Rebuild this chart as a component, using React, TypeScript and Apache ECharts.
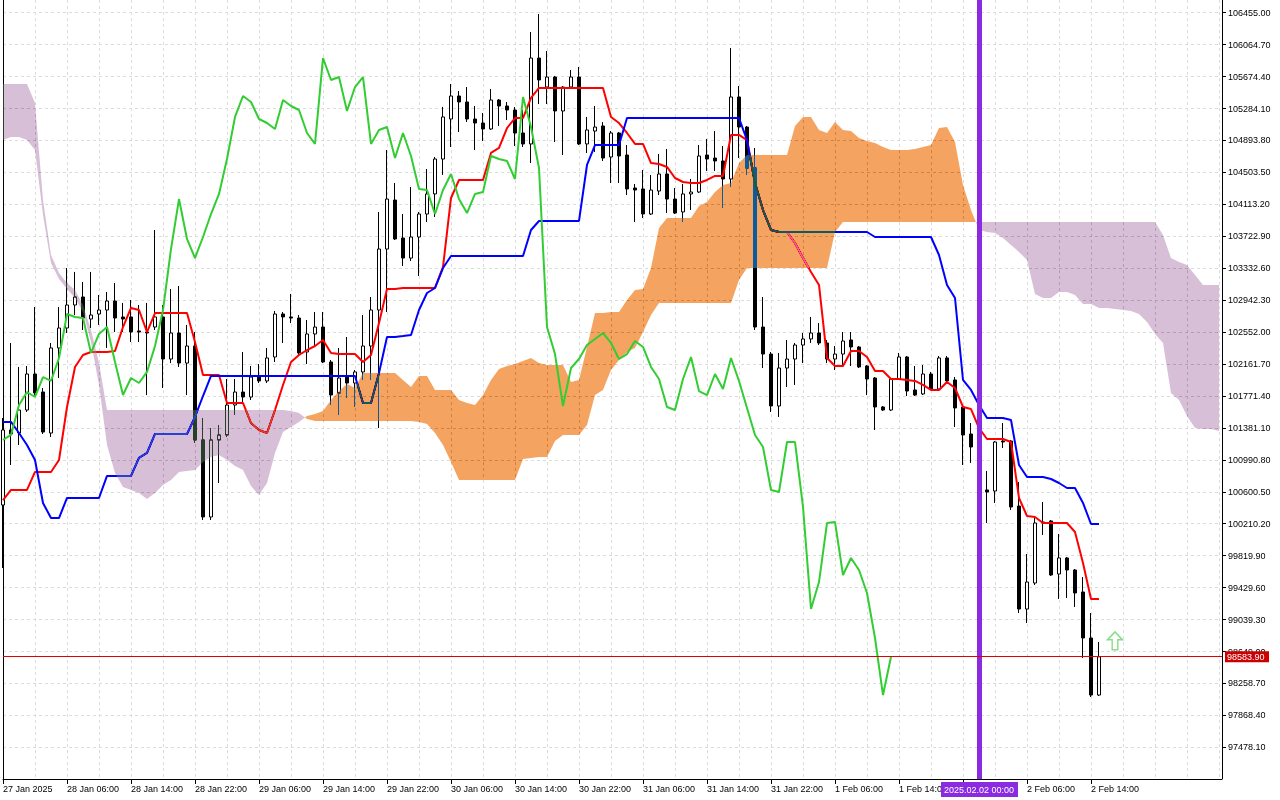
import React, { useEffect, useRef } from 'react';
import * as echarts from 'echarts';

const FONT = '"Liberation Sans", Arial, sans-serif';
const START_UTC = Date.UTC(2025, 0, 27, 22, 0, 0);
const SLOT_COUNT = 153;
const LAST_BAR = 137;
const MARK_INDEX = 122;
const Y_MIN = 97091.0;
const Y_MAX = 106610.2;
const LAST_PRICE = 98583.9;
const ARROW_POINT = [139, 98780];
const MONTHS = ['Jan', 'Feb', 'Mar', 'Apr', 'May', 'Jun', 'Jul', 'Aug', 'Sep', 'Oct', 'Nov', 'Dec'];

const yTicks = [97478.1, 97868.4, 98258.7, 98649.0, 99039.3, 99429.6, 99819.9, 100210.2, 100600.5, 100990.8,
  101381.1, 101771.4, 102161.7, 102552.0, 102942.3, 103332.6, 103722.9, 104113.2, 104503.5, 104893.8,
  105284.1, 105674.4, 106064.7, 106455.0];

// [open, close, low, high]
const candles = [
  [100439, 101356, 99669, 101502], [101356, 101307, 100928, 102419], [101319, 101600, 101172, 102126], [101600, 102040, 101576, 102138],
  [102040, 101808, 101759, 102859], [101820, 101331, 101307, 101869], [101319, 102358, 101270, 102419], [102358, 102602, 101991, 102859],
  [102602, 102883, 102541, 103335], [102883, 102981, 102761, 103287], [102981, 102724, 102578, 103164], [102712, 102761, 102602, 103287],
  [102773, 102822, 102639, 103005], [102822, 102932, 102358, 103042], [102932, 102724, 102553, 103152], [102737, 102712, 102553, 102908],
  [102737, 102553, 102431, 102944], [102566, 102553, 102431, 102883], [102553, 102541, 101783, 102908], [102614, 102737, 102578, 103800],
  [102737, 102223, 101869, 102883], [102223, 102541, 102174, 103079], [102541, 102174, 102126, 103115], [102174, 102382, 101783, 102639],
  [102382, 101234, 101197, 102553], [101234, 100293, 100256, 101502], [100293, 101234, 100256, 101380], [101234, 101295, 100708, 101417],
  [101295, 101661, 101270, 101979], [101661, 101820, 101539, 101979], [101820, 101759, 101698, 102309], [101759, 102003, 101722, 102138],
  [102003, 101955, 101930, 102162], [101955, 102236, 101930, 102358], [102248, 102773, 102187, 102810], [102773, 102737, 102419, 102798],
  [102737, 102724, 102663, 103018], [102724, 102297, 102272, 102761], [102309, 102529, 102162, 102700], [102529, 102614, 102382, 102798],
  [102614, 102187, 102174, 102798], [102187, 101783, 101661, 102211], [101808, 101991, 101539, 102358], [102003, 101930, 101747, 102492],
  [101930, 102065, 101637, 102089], [102065, 102382, 101967, 102761], [102382, 102822, 101967, 102981], [102822, 103567, 101380, 104020],
  [103567, 104178, 102798, 104777], [104166, 103690, 103677, 104374], [103702, 103457, 103360, 103995], [103457, 103714, 103421, 104325],
  [103714, 103995, 103238, 104020], [103995, 104240, 103897, 104545], [104240, 104667, 103959, 104692], [104667, 105181, 104472, 105303],
  [105156, 105437, 104814, 105584], [105437, 105364, 104997, 105498], [105364, 105156, 105119, 105547], [105156, 105107, 104777, 105315],
  [105107, 105034, 104887, 105229], [105034, 105388, 105022, 105523], [105388, 105315, 105071, 105400], [105315, 105266, 105144, 105364],
  [105266, 104985, 104826, 105303], [104985, 104851, 104814, 105266], [104851, 105901, 104618, 106219], [105901, 105633, 105339, 106439],
  [105547, 105669, 105339, 105987], [105669, 105254, 104875, 105682], [105254, 105547, 104716, 105559], [105547, 105669, 105535, 105755],
  [105669, 104851, 104838, 105792], [104851, 105022, 104741, 105181], [105009, 105058, 104753, 105315], [105071, 104679, 104643, 105119],
  [104692, 104985, 104374, 105009], [104985, 104704, 104374, 104997], [104716, 104301, 104227, 104838], [104313, 104288, 103897, 104362],
  [104301, 103995, 103946, 104533], [103995, 104288, 103983, 104472], [104276, 104484, 104227, 104728], [104484, 104178, 104007, 104789],
  [104178, 104007, 103995, 104313], [104020, 104240, 103897, 104362], [104240, 104264, 104044, 104423], [104264, 104704, 104252, 104838],
  [104716, 104667, 104521, 104912], [104679, 104643, 104521, 105009], [104643, 104423, 104068, 104826], [104423, 105425, 104325, 106024],
  [105425, 105058, 104679, 105559], [105058, 104557, 104472, 105071], [104557, 102614, 102578, 104802], [102614, 102284, 102113, 102981],
  [102284, 101649, 101576, 102309], [101649, 102113, 101515, 102297], [102113, 102223, 101881, 102456], [102223, 102394, 101906, 102419],
  [102394, 102468, 102174, 102541], [102468, 102541, 102419, 102737], [102541, 102419, 102394, 102663], [102419, 102223, 102174, 102456],
  [102223, 102284, 102089, 102382], [102284, 102443, 102126, 102553], [102456, 102370, 102138, 102553], [102370, 102126, 102113, 102382],
  [102138, 101979, 101783, 102150], [101991, 101637, 101356, 102003], [101637, 101600, 101588, 101649], [101600, 101979, 101588, 101991],
  [101979, 102248, 101967, 102297], [102248, 101832, 101771, 102260], [101845, 101783, 101771, 102138], [101796, 102040, 101783, 102150],
  [102040, 101857, 101845, 102065], [101857, 102236, 101845, 102260], [102236, 101955, 101942, 102260], [101967, 101625, 101392, 102003],
  [101637, 101295, 100928, 101649], [101307, 101148, 100952, 101441], [101148, 100623, 100561, 101234], [100623, 100598, 100219, 100855],
  [100610, 101209, 100464, 101221], [101221, 101209, 101136, 101441], [101221, 100415, 100378, 101234], [100427, 99168, 99119, 100720],
  [99168, 99498, 98997, 99840], [99486, 100219, 99462, 100293], [100219, 100232, 100073, 100476], [100244, 99584, 99572, 100256],
  [99596, 99792, 99291, 100085], [99792, 99645, 99303, 99804], [99645, 99364, 99193, 99657], [99376, 98814, 98570, 99559],
  [98814, 98117, 98093, 99119], [98117, 98583.9, 98105, 98765],
];

const tenkan = [
  100500, 100623, 100623, 100623, 100843, 100843, 100843, 100989, 101637, 102126,
  102272, 102309, 102309, 102309, 102321, 102614, 102847, 102822, 102553, 102785,
  102785, 102785, 102785, 102785, 102431, 102028, 102028, 102028, 101686, 101686,
  101686, 101441, 101356, 101319, 101600, 101906, 102187, 102272, 102333, 102382,
  102456, 102297, 102284, 102284, 102284, 102187, 102272, 102663, 103079, 103079,
  103091, 103091, 103091, 103091, 103091, 103348, 104191, 104411, 104411, 104411,
  104411, 104741, 104802, 105046, 105168, 105168, 105413, 105535, 105535, 105535,
  105535, 105535, 105535, 105535, 105535, 105535, 105181, 105107, 104985, 104851,
  104851, 104618, 104606, 104570, 104435, 104386, 104374, 104374, 104411, 104460,
  104460, 104961, 104961, 104899, 104374, 104044, 103800, 103775, 103775, 103641,
  103457, 103287, 103128, 102236, 102138, 102138, 102321, 102321, 102248, 102077,
  102077, 101979, 101979, 101967, 101955, 101906, 101845, 101845, 101942, 101869,
  101637, 101612, 101380, 101246, 101246, 101246, 101209, 100525, 100305, 100293,
  100219, 100219, 100219, 100219, 100109, 99730, 99291, 99291,
];

const kijun = [
  101454, 101454, 101319, 101172, 100989, 100464, 100280, 100280, 100525, 100525,
  100525, 100525, 100525, 100794, 100794, 100794, 100794, 101014, 101075, 101307,
  101307, 101307, 101307, 101307, 101515, 101771, 102016, 102016, 102016, 102016,
  102016, 102016, 102016, 102016, 102016, 102016, 102016, 102016, 102016, 102016,
  102016, 102016, 102016, 102016, 102016, 101686, 101686, 102052, 102492, 102492,
  102504, 102517, 102822, 103030, 103091, 103335, 103482, 103482, 103482, 103482,
  103482, 103482, 103482, 103482, 103482, 103482, 103800, 103910, 103910, 103910,
  103910, 103910, 103910, 104594, 104838, 104838, 104838, 104838, 105168, 105168,
  105168, 105168, 105168, 105168, 105168, 105168, 105168, 105168, 105168, 105168,
  105168, 105168, 105168, 104899, 104374, 104044, 103800, 103775, 103775, 103775,
  103775, 103775, 103775, 103775, 103775, 103775, 103775, 103775, 103775, 103714,
  103714, 103714, 103714, 103714, 103714, 103714, 103714, 103494, 103128, 102969,
  101967, 101845, 101661, 101502, 101502, 101502, 101478, 100928, 100781, 100781,
  100781, 100757, 100708, 100647, 100647, 100464, 100207, 100207,
];

const senkouA = [
  104899, 104936, 104936, 104899, 104777, 103983, 103396, 103201, 103079, 102969,
  102798, 102431, 101906, 101172, 100830, 100659, 100623, 100586, 100513, 100586,
  100684, 100745, 100843, 100855, 100867, 100965, 101026, 101050, 100989, 100916,
  100867, 100671, 100561, 100708, 101075, 101331, 101392, 101454, 101527, 101551,
  101588, 101722, 101832, 101918, 101869, 102052, 102052, 102052, 102052, 102052,
  101967, 101881, 102016, 102016, 101845, 101845, 101845, 101722, 101686, 101661,
  101783, 101967, 102101, 102138, 102162, 102199, 102236, 102174, 102150, 102150,
  102150, 101942, 101967, 102370, 102785, 102785, 102798, 102798, 102944, 103067,
  103079, 103335, 103824, 103946, 103946, 103946, 103946, 104093, 104142, 104264,
  104350, 104374, 104618, 104716, 104716, 104716, 104716, 104716, 104716, 105071,
  105181, 105181, 105022, 104985, 105119, 105022, 105009, 104924, 104887, 104863,
  104814, 104777, 104777, 104777, 104789, 104814, 104838, 105046, 105058, 104875,
  104350, 104044, 103800, 103775, 103763, 103702, 103616, 103531, 103433, 103018,
  102969, 102969, 103042, 103042, 103005, 102895, 102895, 102847, 102847, 102834,
  102822, 102810, 102773, 102675, 102529, 102419, 101808, 101722, 101527, 101380,
  101368, 101368, 101343,
];

const senkouB = [
  105584, 105584, 105584, 105584, 105352, 104166, 103494, 103274, 103152, 103067,
  102883, 102578, 102174, 101600, 101600, 101600, 101600, 101600, 101600, 101600,
  101600, 101600, 101600, 101600, 101600, 101600, 101600, 101600, 101600, 101600,
  101600, 101600, 101600, 101600, 101600, 101600, 101588, 101563, 101490, 101466,
  101466, 101466, 101466, 101466, 101466, 101466, 101466, 101466, 101466, 101466,
  101466, 101466, 101454, 101429, 101319, 101172, 100965, 100745, 100745, 100745,
  100745, 100745, 100745, 100745, 100745, 101001, 101014, 101026, 101026, 101221,
  101295, 101295, 101295, 101417, 101783, 101845, 102089, 102211, 102309, 102358,
  102553, 102761, 102908, 102908, 102908, 102908, 102908, 102908, 102908, 102908,
  102908, 102908, 103189, 103335, 103335, 103335, 103335, 103335, 103335, 103335,
  103335, 103335, 103335, 103335, 103775, 103897, 103897, 103897, 103897, 103897,
  103897, 103897, 103897, 103897, 103897, 103897, 103897, 103897, 103897, 103897,
  103897, 103897, 103897, 103897, 103897, 103897, 103897, 103897, 103897, 103897,
  103897, 103897, 103897, 103897, 103897, 103897, 103897, 103897, 103897, 103897,
  103897, 103897, 103897, 103897, 103897, 103739, 103457, 103409, 103372, 103250,
  103128, 103128, 103128,
];

// Chikou span: the close plotted 26 bars back
const chikou = candles.slice(26).map((c) => c[1]);

const pad = (n: number) => (n < 10 ? '0' + n : '' + n);
const slotDates = Array.from({ length: SLOT_COUNT }, (_, i) => new Date(START_UTC + i * 3600000));
const categories = slotDates.map(
  (d) => `${d.getUTCFullYear()}.${pad(d.getUTCMonth() + 1)}.${pad(d.getUTCDate())} ${pad(d.getUTCHours())}:00`
);

const showTick = (i: number) => i % 8 === 0 && i <= LAST_BAR;
// the label under the marker line is covered by the marker's own time label
const showTimeLabel = (i: number) => showTick(i) && i !== 120;
const timeLabel = (i: number) => {
  const d = slotDates[i];
  if (i === 0) return `${d.getUTCDate()} ${MONTHS[d.getUTCMonth()]} ${d.getUTCFullYear()}`;
  return `${d.getUTCDate()} ${MONTHS[d.getUTCMonth()]} ${pad(d.getUTCHours())}:00`;
};

const CLOUD_UP = '#0b5b9f'; // inverse of sandybrown, painted with "difference" blending
const CLOUD_DN = '#274027'; // inverse of thistle
const GRID_COLOR = '#dcdcdc';
const PRICE_RED = '#e00000';

const CSS = `
#ichi-chart svg path[fill="${CLOUD_UP}"], #ichi-chart svg path[fill="${CLOUD_DN}"],
#ichi-chart svg path[fill="${CLOUD_UP.toUpperCase()}"], #ichi-chart svg path[fill="${CLOUD_DN.toUpperCase()}"],
#ichi-chart svg path[fill="rgb(11,91,159)"], #ichi-chart svg path[fill="rgb(39,64,39)"] { mix-blend-mode: difference; }
`;

function cloudRenderItem(params: any, api: any) {
  const regions: { fill: string; up: number[][]; dn: number[][] }[] = [];
  let cur: { s: number; up: number[][]; dn: number[][] } | null = null;
  for (let i = 0; i < senkouA.length; i++) {
    const a = senkouA[i];
    const b = senkouB[i];
    const s = a >= b ? 1 : -1;
    if (!cur) cur = { s, up: [], dn: [] };
    if (s !== cur.s) {
      const a0 = senkouA[i - 1];
      const b0 = senkouB[i - 1];
      const d0 = a0 - b0;
      const d1 = a - b;
      const t = d0 / (d0 - d1);
      const yv = a0 + t * (a - a0);
      const p0 = api.coord([i - 1, yv]);
      const p1 = api.coord([i, yv]);
      const p = [p0[0] + t * (p1[0] - p0[0]), p0[1]];
      cur.up.push(p);
      cur.dn.push(p);
      regions.push({ fill: cur.s > 0 ? CLOUD_UP : CLOUD_DN, up: cur.up, dn: cur.dn });
      cur = { s, up: [p], dn: [p] };
    }
    cur.up.push(api.coord([i, a]));
    cur.dn.push(api.coord([i, b]));
  }
  if (cur) regions.push({ fill: cur.s > 0 ? CLOUD_UP : CLOUD_DN, up: cur.up, dn: cur.dn });
  return {
    type: 'group',
    children: regions.map((r) => ({
      type: 'polygon',
      shape: { points: r.up.concat(r.dn.slice().reverse()) },
      style: { fill: r.fill, stroke: null },
      silent: true,
    })),
  };
}

export default function App() {
  const ref = useRef<HTMLDivElement>(null);

  useEffect(() => {
    if (!ref.current) return;
    const chart = echarts.init(ref.current, undefined, { renderer: 'svg' });
    const dashed = { color: GRID_COLOR, type: [3, 3] as any, width: 1 };
    const option: any = {
      animation: false,
      backgroundColor: '#ffffff',
      textStyle: { fontFamily: FONT, fontSize: 9, color: '#000' },
      grid: { left: 3, right: 61, top: 0, bottom: 21, containLabel: false },
      xAxis: {
        type: 'category',
        data: categories,
        boundaryGap: false,
        axisLine: { show: true, onZero: false, lineStyle: { color: '#000', width: 1 } },
        axisTick: { show: true, length: 5, interval: (i: number) => showTick(i), lineStyle: { color: '#000' } },
        axisLabel: {
          show: true,
          interval: (i: number) => showTimeLabel(i),
          align: 'left',
          margin: 5,
          fontSize: 9,
          fontFamily: FONT,
          color: '#000',
          formatter: (_v: string, i: number) => (showTimeLabel(i) ? timeLabel(i) : ''),
        },
        splitLine: { show: true, interval: (i: number) => i % 4 === 0, lineStyle: dashed },
      },
      yAxis: [
        {
          type: 'value',
          position: 'right',
          offset: 3,
          min: Y_MIN,
          max: Y_MAX,
          axisLine: { show: true, lineStyle: { color: '#000', width: 1 } },
          axisTick: { show: true, length: 4, customValues: yTicks, lineStyle: { color: '#000' } },
          axisLabel: {
            show: true,
            customValues: yTicks,
            margin: 6,
            fontSize: 9,
            fontFamily: FONT,
            color: '#000',
            formatter: (v: number) => v.toFixed(2),
          },
          splitLine: { show: true, lineStyle: dashed },
        },
        {
          type: 'value',
          position: 'left',
          min: Y_MIN,
          max: Y_MAX,
          axisLine: { show: true, lineStyle: { color: '#000', width: 1 } },
          axisTick: { show: false },
          axisLabel: { show: false },
          splitLine: { show: false },
        },
      ],
      series: [
        {
          type: 'candlestick',
          name: 'BTCUSD',
          data: candles,
          barWidth: 4,
          z: 2,
          silent: true,
          itemStyle: { color: '#ffffff', color0: '#000000', borderColor: '#000000', borderColor0: '#000000', borderWidth: 1 },
        },
        {
          type: 'line',
          name: 'Tenkan-sen',
          data: tenkan,
          symbol: 'none',
          showSymbol: false,
          silent: true,
          z: 3,
          lineStyle: { color: '#ff0000', width: 2 },
        },
        {
          type: 'line',
          name: 'Kijun-sen',
          data: kijun,
          symbol: 'none',
          showSymbol: false,
          silent: true,
          z: 3,
          lineStyle: { color: '#0000ff', width: 2 },
        },
        {
          type: 'custom',
          name: 'Kumo',
          data: [[0, senkouA[0]]],
          renderItem: cloudRenderItem,
          clip: false,
          silent: true,
          z: 4,
        },
        {
          type: 'line',
          name: 'Chikou Span',
          data: chikou,
          symbol: 'none',
          showSymbol: false,
          silent: true,
          z: 5,
          lineStyle: { color: '#32cd32', width: 2 },
          markLine: {
            silent: true,
            symbol: ['none', 'none'],
            label: { show: false },
            emphasis: { disabled: true },
            lineStyle: { color: '#8a2be2', width: 5, type: 'solid', opacity: 1 },
            data: [{ xAxis: categories[MARK_INDEX] }],
          },
        },
        {
          type: 'scatter',
          name: 'Buy',
          data: [ARROW_POINT],
          symbol: 'path://M8,0 L16,8 L11,8 L11,18 L5,18 L5,8 L0,8 Z',
          symbolSize: [15, 18],
          silent: true,
          z: 6,
          itemStyle: { color: '#ffffff', borderColor: '#6ad36a', borderWidth: 1.5 },
        },
      ],
    };
    chart.setOption(option);

    const xLeft = chart.convertToPixel({ xAxisIndex: 0 } as any, categories[0]) as number;
    const xMark = chart.convertToPixel({ xAxisIndex: 0 } as any, categories[MARK_INDEX]) as number;
    const xRight = chart.convertToPixel({ xAxisIndex: 0 } as any, categories[SLOT_COUNT - 1]) as number;
    const axisX = xRight + 3;
    const yPrice = chart.convertToPixel({ yAxisIndex: 0 } as any, LAST_PRICE) as number;
    const yLine = Math.floor(yPrice) + 0.5;
    const yBottom = chart.convertToPixel({ yAxisIndex: 0 } as any, Y_MIN) as number;
    const font = `9px ${FONT}`;
    chart.setOption({
      graphic: [
        { type: 'line', z: 50, silent: true, shape: { x1: xRight, y1: yBottom + 0.5, x2: axisX, y2: yBottom + 0.5 }, style: { stroke: '#000', lineWidth: 1 } },
        { type: 'line', z: 60, silent: true, shape: { x1: xLeft, y1: yLine, x2: axisX, y2: yLine }, style: { stroke: PRICE_RED, lineWidth: 1 } },
        { type: 'rect', z: 100, shape: { x: xMark - 38, y: yBottom + 3, width: 77, height: 15 }, style: { fill: '#8a2be2' }, silent: true },
        {
          type: 'text', z: 101, x: xMark, y: yBottom + 10.5, silent: true,
          style: { text: categories[MARK_INDEX], fill: '#ffffff', font, align: 'center', verticalAlign: 'middle', textAlign: 'center', textVerticalAlign: 'middle' },
        },
        { type: 'rect', z: 100, shape: { x: axisX + 3, y: yPrice - 5.5, width: 44, height: 11 }, style: { fill: '#cc0000' }, silent: true },
        {
          type: 'text', z: 101, x: axisX + 5, y: yPrice, silent: true,
          style: { text: LAST_PRICE.toFixed(2), fill: '#ffffff', font, align: 'left', verticalAlign: 'middle', textAlign: 'left', textVerticalAlign: 'middle' },
        },
      ],
    });

    return () => chart.dispose();
  }, []);

  return (
    <div style={{ position: 'fixed', left: 0, top: 0, width: 1280, height: 800, background: '#fff' }}>
      <style>{CSS}</style>
      <div id="ichi-chart" ref={ref} style={{ width: 1280, height: 800 }} />
    </div>
  );
}
